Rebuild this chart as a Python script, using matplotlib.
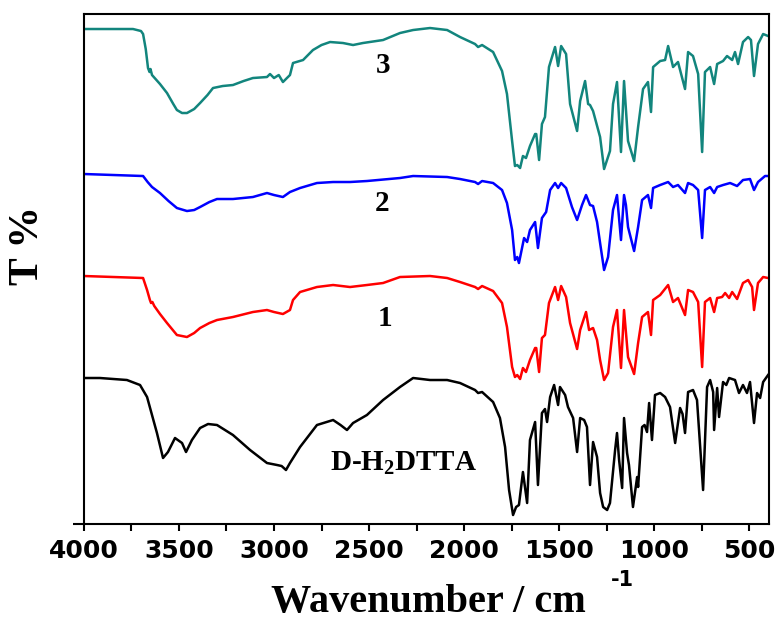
import matplotlib
matplotlib.use("Agg")
import matplotlib.pyplot as plt
from matplotlib.ticker import MultipleLocator

# FT-IR spectra: (wavenumber / cm^-1, transmittance in arbitrary offset units)
spec_3 = [
    (4000, 495), (3742, 495), (3700, 493), (3689, 490), (3675, 475), (3663, 456),
    (3655, 452), (3650, 455), (3642, 449), (3600, 440), (3563, 431), (3530, 420),
    (3511, 414), (3484, 411), (3458, 411), (3420, 415), (3389, 421), (3350, 429),
    (3321, 436), (3270, 438), (3216, 439), (3160, 443), (3111, 446), (3037, 447),
    (3021, 450), (3000, 446), (2975, 449), (2953, 442), (2916, 449), (2900, 461),
    (2847, 464), (2795, 474), (2750, 479), (2705, 482), (2637, 481), (2584, 479),
    (2532, 481), (2426, 484), (2337, 491), (2268, 494), (2179, 496), (2089, 494),
    (2021, 487), (1942, 480), (1926, 477), (1905, 479), (1847, 472), (1800, 453),
    (1774, 430), (1747, 383), (1732, 358), (1720, 359), (1705, 356), (1690, 368),
    (1674, 366), (1653, 378), (1626, 390), (1620, 390), (1605, 364), (1590, 400),
    (1574, 407), (1553, 457), (1521, 477), (1505, 458), (1489, 478), (1463, 470),
    (1442, 420), (1405, 393), (1389, 423), (1363, 443), (1347, 420), (1337, 419),
    (1321, 413), (1284, 387), (1263, 355), (1232, 373), (1216, 420), (1195, 442),
    (1174, 372), (1158, 443), (1137, 383), (1105, 363), (1084, 397), (1058, 435),
    (1032, 442), (1016, 412), (1005, 457), (968, 463), (942, 464), (926, 478),
    (900, 457), (874, 462), (837, 435), (821, 472), (795, 468), (768, 450),
    (747, 372), (732, 452), (705, 457), (684, 440), (668, 460), (637, 463),
    (616, 468), (589, 464), (574, 472), (558, 460), (532, 482), (505, 487),
    (490, 484), (474, 448), (453, 480), (426, 490), (400, 488),
]

spec_2 = [
    (4000, 350), (3689, 348), (3665, 342), (3642, 337), (3600, 331), (3555, 323),
    (3511, 316), (3458, 313), (3420, 314), (3389, 317), (3340, 322), (3300, 325),
    (3216, 325), (3111, 327), (3037, 331), (3000, 329), (2953, 327), (2916, 332),
    (2863, 336), (2774, 341), (2689, 342), (2600, 342), (2511, 343), (2337, 346),
    (2268, 348), (2089, 347), (2021, 345), (1942, 342), (1926, 340), (1905, 343),
    (1847, 341), (1800, 334), (1774, 321), (1747, 294), (1732, 264), (1720, 267),
    (1711, 261), (1684, 286), (1668, 282), (1653, 294), (1626, 302), (1611, 276),
    (1590, 306), (1568, 312), (1547, 334), (1521, 341), (1505, 336), (1489, 341),
    (1463, 336), (1432, 317), (1405, 304), (1379, 319), (1358, 329), (1337, 319),
    (1321, 318), (1300, 302), (1284, 281), (1263, 254), (1242, 267), (1216, 314),
    (1195, 329), (1174, 284), (1158, 329), (1148, 319), (1137, 297), (1105, 273),
    (1084, 297), (1063, 324), (1032, 329), (1016, 316), (1005, 336), (968, 339),
    (926, 342), (900, 337), (874, 339), (837, 331), (821, 341), (795, 339),
    (768, 334), (747, 286), (732, 334), (705, 337), (684, 331), (668, 337),
    (637, 339), (600, 341), (563, 338), (532, 344), (495, 345), (474, 334),
    (453, 342), (416, 348), (400, 348),
]

spec_1 = [
    (4000, 248), (3689, 246), (3668, 234), (3653, 224), (3647, 221), (3640, 222),
    (3630, 218), (3600, 210), (3563, 201), (3511, 189), (3458, 187), (3420, 191),
    (3389, 196), (3340, 201), (3300, 204), (3216, 207), (3111, 212), (3037, 214),
    (3000, 212), (2953, 210), (2916, 214), (2900, 224), (2863, 232), (2774, 237),
    (2689, 239), (2600, 237), (2511, 239), (2426, 241), (2337, 247), (2179, 248),
    (2089, 246), (2021, 242), (1942, 237), (1926, 235), (1905, 238), (1847, 233),
    (1800, 221), (1774, 197), (1747, 157), (1732, 147), (1720, 149), (1705, 145),
    (1690, 156), (1674, 152), (1653, 164), (1626, 176), (1620, 176), (1605, 152),
    (1590, 186), (1574, 189), (1553, 221), (1521, 237), (1505, 224), (1489, 238),
    (1463, 227), (1442, 201), (1405, 175), (1389, 194), (1358, 212), (1342, 194),
    (1321, 196), (1300, 184), (1284, 164), (1263, 144), (1242, 151), (1216, 197),
    (1195, 214), (1174, 156), (1158, 214), (1137, 167), (1105, 150), (1084, 181),
    (1063, 207), (1032, 212), (1016, 189), (1005, 224), (968, 229), (926, 239),
    (900, 222), (874, 226), (837, 209), (821, 234), (795, 232), (768, 222),
    (747, 157), (732, 222), (705, 226), (684, 212), (668, 226), (642, 227),
    (626, 231), (605, 226), (589, 232), (563, 225), (532, 241), (505, 244),
    (484, 237), (474, 214), (453, 241), (426, 247), (400, 246),
]

spec_ligand = [
    (4000, 146), (3916, 146), (3774, 144), (3705, 139), (3668, 127), (3616, 91),
    (3584, 66), (3558, 72), (3521, 86), (3484, 81), (3463, 72), (3432, 84),
    (3389, 96), (3347, 100), (3300, 99), (3216, 89), (3126, 74), (3037, 61),
    (2984, 59), (2960, 58), (2937, 54), (2916, 61), (2863, 77), (2774, 99),
    (2689, 104), (2650, 99), (2616, 94), (2584, 101), (2511, 109), (2426, 124),
    (2337, 137), (2268, 146), (2179, 144), (2089, 144), (2021, 141), (1942, 134),
    (1926, 131), (1905, 132), (1847, 122), (1811, 106), (1784, 77), (1763, 34),
    (1742, 9), (1726, 17), (1711, 19), (1690, 52), (1668, 21), (1653, 84),
    (1626, 102), (1611, 39), (1590, 111), (1574, 115), (1563, 102), (1547, 127),
    (1526, 139), (1505, 119), (1495, 137), (1468, 129), (1453, 117), (1426, 106),
    (1405, 72), (1389, 106), (1368, 104), (1353, 97), (1337, 39), (1321, 82),
    (1300, 67), (1284, 31), (1268, 17), (1247, 14), (1232, 21), (1205, 74),
    (1195, 91), (1184, 64), (1168, 36), (1158, 106), (1142, 71), (1132, 59),
    (1111, 17), (1089, 47), (1084, 37), (1063, 97), (1050, 99), (1037, 92),
    (1026, 121), (1011, 84), (995, 129), (968, 131), (942, 127), (916, 117),
    (889, 81), (863, 116), (850, 110), (837, 91), (821, 132), (795, 134),
    (774, 124), (742, 34), (721, 137), (705, 144), (689, 132), (684, 94),
    (668, 136), (658, 107), (637, 142), (620, 139), (605, 146), (574, 144),
    (553, 131), (532, 139), (511, 131), (495, 142), (474, 101), (458, 131),
    (442, 126), (426, 142), (400, 149),
]

series = [
    (spec_3, "#12857d", "3", (2426, 459)),
    (spec_2, "#0000ff", "2", (2432, 321)),
    (spec_1, "#ff0000", "1", (2416, 206)),
    (spec_ligand, "#000000", r"D-H$_2$DTTA", (2316, 61)),
]

x_ticks = [4000, 3500, 3000, 2500, 2000, 1500, 1000, 500]

plt.rcParams["mathtext.fontset"] = "custom"
plt.rcParams["mathtext.rm"] = "Liberation Serif:bold"
plt.rcParams["mathtext.it"] = "Liberation Serif:bold"
plt.rcParams["mathtext.bf"] = "Liberation Serif:bold"

fig = plt.figure(figsize=(7.79, 6.23), dpi=100)
ax = fig.add_axes([0.1078, 0.1589, 0.8794, 0.8186])

for data, color, label, (lx, ly) in series:
    wn = [p[0] for p in data]
    tr = [p[1] for p in data]
    ax.plot(wn, tr, color=color, lw=1.8, solid_joinstyle="round")
    ax.text(lx, ly, label, ha="center", va="center", fontsize=21,
            fontfamily="Liberation Serif", fontweight="bold", color="black")

ax.set_xlim(4000, 395)
ax.set_ylim(0, 510)
ax.set_xticks(x_ticks)
ax.set_xticklabels([str(t) for t in x_ticks])
ax.xaxis.set_minor_locator(MultipleLocator(250))
ax.set_yticks([])

for s in ax.spines.values():
    s.set_linewidth(1.5)

ax.tick_params(axis="x", which="both", direction="out", length=5, width=1.5,
               top=False, pad=6)
for lab in ax.get_xticklabels():
    lab.set_fontfamily("DejaVu Sans")
    lab.set_fontweight("bold")
    lab.set_fontsize(18)

# bottom axis line runs slightly past the left spine
ax.plot([-0.016, 0], [0, 0], transform=ax.transAxes, clip_on=False,
        color="black", lw=1.5, solid_capstyle="butt")

ax.set_ylabel("T %", fontsize=30, fontfamily="Liberation Serif",
              fontweight="bold")
ax.yaxis.set_label_coords(-0.054, 0.547)

fig.text(428 / 779, 1 - 612 / 623, "Wavenumber / cm", ha="center",
         va="baseline", fontsize=29, fontfamily="Liberation Serif",
         fontweight="bold")
fig.text(622 / 779, 1 - 586 / 623, "-1", ha="center", va="baseline",
         fontsize=15, fontfamily="DejaVu Sans", fontweight="bold")

fig.savefig("out.png", dpi=100, facecolor="white")
